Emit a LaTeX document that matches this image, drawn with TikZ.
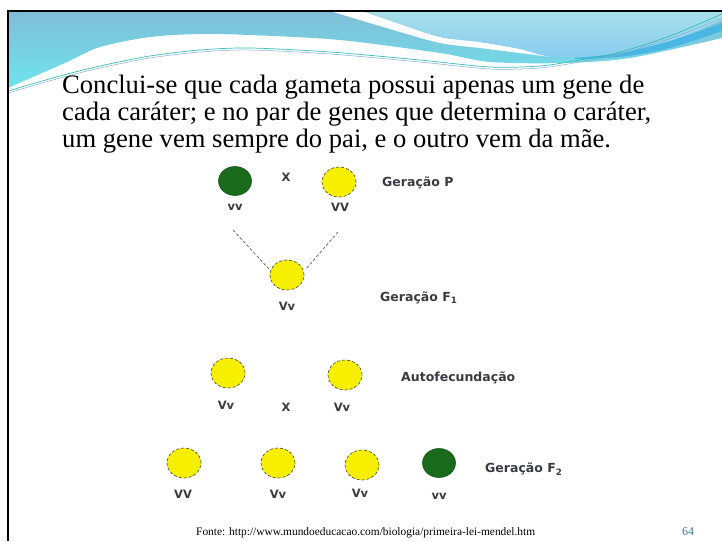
\documentclass[tikz,border=0pt]{standalone}
\usepackage{fontspec}
\setmainfont{Liberation Serif}
\newfontfamily\labelfont{DejaVu Sans}
\usetikzlibrary{positioning,shapes.geometric}
\definecolor{hdtop}{RGB}{128,190,214}
\definecolor{hdbot}{RGB}{110,228,238}
\definecolor{skytop}{RGB}{168,223,234}
\definecolor{skybot}{RGB}{136,204,240}
\definecolor{stripe}{RGB}{74,182,226}
\definecolor{wavea}{RGB}{52,190,178}
\definecolor{waveb}{RGB}{132,172,212}
\definecolor{peayellow}{RGB}{246,240,0}
\definecolor{peagreen}{RGB}{26,106,28}
\definecolor{labelgrey}{RGB}{58,58,66}
\definecolor{pagenum}{RGB}{58,120,150}

\begin{document}
\begin{tikzpicture}[x=1pt,y=-1pt,
  pea/.style={ellipse,minimum width=34pt,minimum height=30pt,inner sep=0pt,fill=peayellow,draw=black!75,densely dashed,line width=.6pt},
  greenpea/.style={ellipse,minimum width=33pt,minimum height=29pt,inner sep=0pt,fill=peagreen,draw=peagreen!85!black,line width=.6pt},
  geno/.style={font=\labelfont\bfseries\fontsize{11.5}{13}\selectfont,text=labelgrey,inner sep=1pt},
  gen/.style={font=\labelfont\bfseries\fontsize{12.5}{14}\selectfont,text=labelgrey,anchor=west,inner sep=0pt},
  link/.style={densely dashed,line width=.6pt,black!70},
  body/.style={font=\fontsize{26.6}{27}\selectfont,anchor=base west,inner sep=0pt}]
\useasboundingbox (0,0) rectangle (722,541);
\fill[white] (0,0) rectangle (722,541);

% header waves
\shade[top color=hdtop,bottom color=hdbot] (8,11) -- (722,11) -- (722,38)
  -- plot[smooth] coordinates {(722,38) (630,58) (563,63) (490,62) (440,53) (340,40) (250,35) (200,34) (150,37) (100,47) (67,62) (8,88)} -- cycle;
\fill[white] plot[smooth] coordinates {(330,11) (390,29) (440,43) (480,48) (520,53) (552,57)}
  -- plot[smooth] coordinates {(552,57) (520,49) (480,42) (440,37) (400,24) (362,11)} -- cycle;
\shade[top color=skytop,bottom color=skybot] (362,11) -- (722,11) -- (722,20)
  -- plot[smooth] coordinates {(722,20) (680,38) (640,51) (600,56) (552,57) (520,49) (480,42) (440,37) (400,24) (362,11)} -- cycle;
\fill[stripe] plot[smooth] coordinates {(575,58) (620,53) (670,41) (722,23)}
  -- plot[smooth] coordinates {(722,31) (670,48) (620,57) (575,59)} -- cycle;
\draw[wavea,line width=.7pt] plot[smooth] coordinates {(8,91) (60,76) (100,66) (150,56) (200,50) (250,48) (330,52) (420,60) (490,67) (540,66) (580,60) (613,54) (650,43) (680,32) (722,14)};
\draw[waveb,line width=.5pt] plot[smooth] coordinates {(8,93) (60,78) (100,68) (150,58) (200,52) (250,50) (330,54) (420,62) (490,69) (540,68) (580,62) (613,56) (650,45) (680,35) (722,18)};

% slide frame
\draw[line width=2.4pt] (8,541) -- (8,11) -- (722,11);

% body text
\node[body] (t1) at (62,93) {Conclui-se que cada gameta possui apenas um gene de};
\node[body] (t2) at (62,120) {cada caráter; e no par de genes que determina o caráter,};
\node[body] (t3) at (62,147) {um gene vem sempre do pai, e o outro vem da mãe.};

% Geracao P
\node[greenpea] (p1) at (235,181) {};
\node[pea] (p2) at (339,182) {};
\node[geno] (p1l) at (235,207) {vv};
\node[geno] (p2l) at (340,207) {VV};
\node[geno] (px) at (286,177) {X};
\node[gen] (gp) at (382,183) {Geração P};

% Geracao F1
\node[pea] (f1) at (287,275) {};
\node[geno] (f1l) at (287,306) {Vv};
\node[gen] (gf1) at (380,298) {Geração F\textsubscript{1}};
\coordinate (a1) at (233,230);
\coordinate (a2) at (338,232);
\draw[link,shorten >=2pt] (a1) -- (f1.165);
\draw[link,shorten >=4pt] (a2) -- (f1.12);

% Autofecundacao
\node[pea] (s1) at (228,373) {};
\node[pea] (s2) at (345,375) {};
\node[geno] (s1l) at (226,405) {Vv};
\node[geno] (s2l) at (342,407) {Vv};
\node[geno] (sx) at (286,407) {X};
\node[gen] (ga) at (401,378) {Autofecundação};

% Geracao F2
\node[pea] (q1) at (184,463) {};
\node[pea] (q2) at (278,463) {};
\node[pea] (q3) at (362,465) {};
\node[greenpea] (q4) at (439,463) {};
\node[geno] (q1l) at (183,494) {VV};
\node[geno] (q2l) at (278,494) {Vv};
\node[geno] (q3l) at (360,493) {Vv};
\node[geno] (q4l) at (439,496) {vv};
\node[gen] (gf2) at (485,469) {Geração F\textsubscript{2}};

% footer
\node[anchor=base west,inner sep=0pt,font=\fontsize{11.4}{13}\selectfont] (src) at (196,535) {Fonte: http://www.mundoeducacao.com/biologia/primeira-lei-mendel.htm};
\node[anchor=base,inner sep=0pt,text=pagenum,font=\fontsize{12}{13}\selectfont] (pg) at (688,535) {64};
\end{tikzpicture}
\end{document}
